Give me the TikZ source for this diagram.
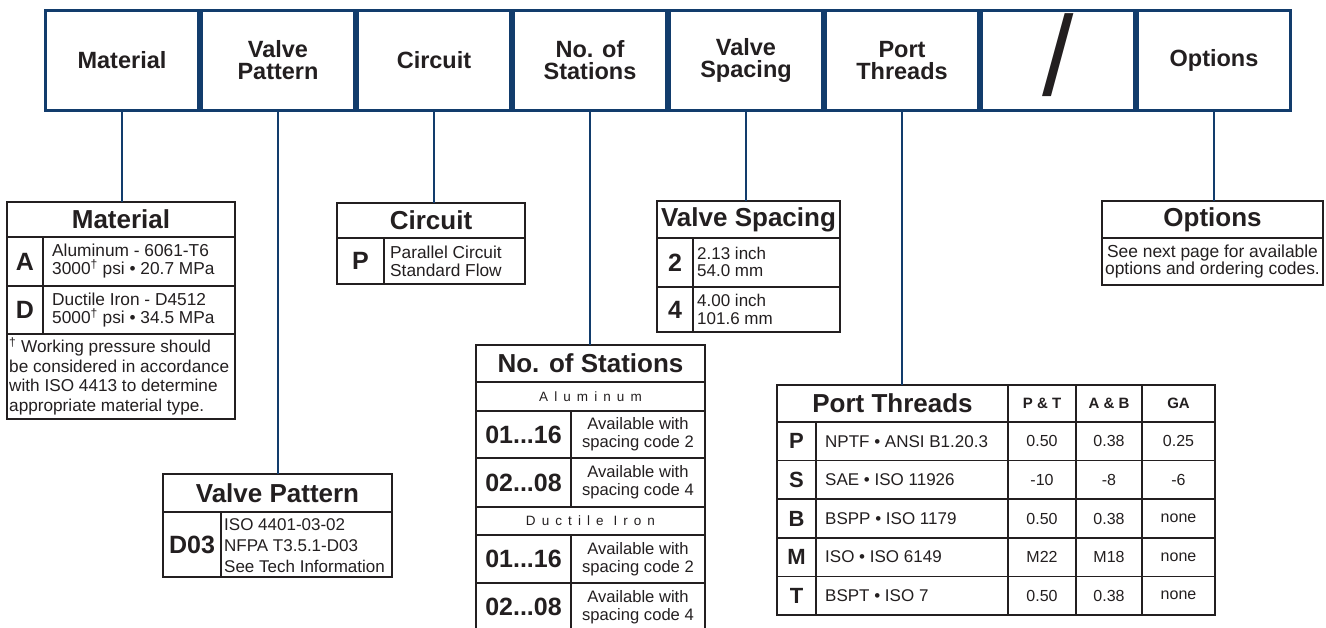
\documentclass[tikz,border=0pt]{standalone}
\usepackage{fontspec}
\setmainfont{Liberation Sans}
\definecolor{navy}{RGB}{18,60,108}
\definecolor{ink}{RGB}{35,31,32}
\tikzset{
  hdr/.style={draw=navy, line width=3pt, minimum width=153pt, minimum height=100pt, inner sep=0pt, align=center, text=ink, font=\bfseries\fontsize{23.5}{22}\selectfont},
  conn/.style={draw=navy, line width=2.2pt},
  cell/.style={draw=ink, line width=1.6pt, inner sep=0pt, outer sep=0pt, align=center, text=ink},
  ttl/.style={cell, font=\bfseries\fontsize{26}{28}\selectfont},
  code/.style={cell, font=\bfseries\fontsize{25}{26}\selectfont},
  pcode/.style={cell, font=\bfseries\fontsize{22}{24}\selectfont},
  hsm/.style={cell, font=\bfseries\fontsize{15}{16}\selectfont},
  sub/.style={cell, font=\fontsize{13.5}{14}\selectfont\addfontfeature{LetterSpace=45}},
  stxt/.style={cell, font=\fontsize{16.6}{18}\selectfont},
  otxt/.style={cell, font=\fontsize{17.4}{17.7}\selectfont},
  val/.style={cell, font=\fontsize{16}{17}\selectfont},
  txt/.style={anchor=west, inner sep=0pt, align=left, text=ink, font=\fontsize{17.3}{17.7}\selectfont},
  outer/.style={draw=ink, line width=2.6pt},
}
\newcommand\tc[7]{\node[#1, minimum width={(#5-#3)*1pt}, minimum height={(#6-#4)*1pt}] (#2) at ({(#3+#5)/2},{-(#4+#6)/2}) {#7};}
\begin{document}
\begin{tikzpicture}[x=1pt,y=1pt]
\useasboundingbox[fill=white] (0,0) rectangle (1326,-627);
% header row
\node[hdr] (hmat) at (122,-60.5) {Material};
\node[hdr] (hvp)  at (278,-60.5) {Valve\\Pattern};
\node[hdr] (hcir) at (434,-60.5) {Circuit};
\node[hdr] (hnos) at (590,-60.5) {No. of\\Stations};
\node[hdr] (hvs)  at (746,-60.5) {Valve\\Spacing};
\node[hdr] (hpt)  at (902,-60.5) {Port\\Threads};
\node[hdr] (hsl)  at (1058,-60.5) {};
\node[anchor=base, inner sep=0pt, text=ink, font=\fontsize{113}{113}\selectfont] (slash) at (1058,-95) {/};
\node[hdr] (hopt) at (1214,-60.5) {Options};
% Material
\tc{ttl}{mat0}{7}{202}{235}{237}{Material}
\tc{code}{matA}{7}{237}{43}{286}{A}
\tc{cell}{matAd}{43}{237}{235}{286}{}
\tc{code}{matD}{7}{286}{43}{334}{D}
\tc{cell}{matDd}{43}{286}{235}{334}{}
\tc{cell}{matN}{7}{334}{235}{419}{}
\node[txt] (matAt) at (52,-261) {Aluminum - 6061-T6\\3000\textsuperscript{†} psi \textbullet{} 20.7 MPa};
\node[txt] (matDt) at (52,-310) {Ductile Iron - D4512\\5000\textsuperscript{†} psi \textbullet{} 34.5 MPa};
\node[txt, font=\fontsize{17.2}{19.5}\selectfont] (matNt) at (9,-376.5) {\textsuperscript{†} Working pressure should\\be considered in accordance\\with ISO 4413 to determine\\appropriate material type.};
\draw[outer] (mat0.north west) rectangle (matN.south east);
% Valve Pattern
\tc{ttl}{vp0}{163}{474}{392}{512}{Valve Pattern}
\tc{code}{vpD}{163}{512}{221}{577}{D03}
\tc{cell}{vpDd}{221}{512}{392}{577}{}
\node[txt, font=\fontsize{17}{21}\selectfont] (vpt) at (224,-546) {ISO 4401-03-02\\NFPA T3.5.1-D03\\See Tech Information};
\draw[outer] (vp0.north west) rectangle (vpDd.south east);
% Circuit
\tc{ttl}{cir0}{337}{203}{525}{238}{Circuit}
\tc{code}{cirP}{337}{238}{384}{284}{P}
\tc{cell}{cirPd}{384}{238}{525}{284}{}
\node[txt] (cirt) at (390,-261) {Parallel Circuit\\Standard Flow};
\draw[outer] (cir0.north west) rectangle (cirPd.south east);
% No. of Stations
\tc{ttl}{nos0}{476}{345}{705}{382}{No. of Stations}
\tc{sub}{nosAl}{476}{382}{705}{411}{Aluminum}
\tc{code}{nos1}{476}{411}{571}{458}{01...16}
\tc{stxt}{nos1d}{571}{411}{705}{458}{Available with\\spacing code 2}
\tc{code}{nos2}{476}{458}{571}{507}{02...08}
\tc{stxt}{nos2d}{571}{458}{705}{507}{Available with\\spacing code 4}
\tc{sub}{nosDi}{476}{507}{705}{535}{Ductile Iron}
\tc{code}{nos3}{476}{535}{571}{583}{01...16}
\tc{stxt}{nos3d}{571}{535}{705}{583}{Available with\\spacing code 2}
\tc{code}{nos4}{476}{583}{571}{631}{02...08}
\tc{stxt}{nos4d}{571}{583}{705}{631}{Available with\\spacing code 4}
\draw[outer] (nos0.north west) rectangle (nos4d.south east);
% Valve Spacing
\tc{ttl}{vs0}{657}{201}{840}{238}{Valve Spacing}
\tc{code}{vs2}{657}{238}{693}{287}{2}
\tc{cell}{vs2d}{693}{238}{840}{287}{}
\tc{code}{vs4}{657}{287}{693}{332}{4}
\tc{cell}{vs4d}{693}{287}{840}{332}{}
\node[txt, font=\fontsize{17}{17.5}\selectfont] (vs2t) at (697,-262) {2.13 inch\\54.0 mm};
\node[txt, font=\fontsize{17}{17.5}\selectfont] (vs4t) at (697,-309.5) {4.00 inch\\101.6 mm};
\draw[outer] (vs0.north west) rectangle (vs4d.south east);
% Port Threads
\tc{ttl}{pt0}{777}{385}{1008}{422}{Port Threads}
\tc{hsm}{ptPT}{1008}{385}{1076}{422}{P \& T}
\tc{hsm}{ptAB}{1076}{385}{1142}{422}{A \& B}
\tc{hsm}{ptGA}{1142}{385}{1215}{422}{GA}
\foreach \pc/\pd/\pa/\pb/\pg [count=\i] in {
  P/NPTF \textbullet{} ANSI B1.20.3/0.50/0.38/0.25,
  S/SAE \textbullet{} ISO 11926/-10/-8/-6,
  B/BSPP \textbullet{} ISO 1179/0.50/0.38/none,
  M/ISO \textbullet{} ISO 6149/M22/M18/none,
  T/BSPT \textbullet{} ISO 7/0.50/0.38/none}{
  \pgfmathsetmacro\ya{422+(\i-1)*38.6}
  \pgfmathsetmacro\yb{\ya+38.6}
  \tc{pcode}{ptc\i}{777}{\ya}{816}{\yb}{\pc}
  \tc{cell}{ptd\i}{816}{\ya}{1008}{\yb}{}
  \tc{val}{ptpt\i}{1008}{\ya}{1076}{\yb}{\pa}
  \tc{val}{ptab\i}{1076}{\ya}{1142}{\yb}{\pb}
  \tc{val}{ptga\i}{1142}{\ya}{1215}{\yb}{\pg}
  \node[txt, font=\fontsize{17}{17}\selectfont] (ptt\i) at (825,{-(\ya+\yb)/2}) {\pd};
}
\draw[outer] (pt0.north west) rectangle (ptga5.south east);
% Options
\tc{ttl}{opt0}{1102}{201}{1323}{238}{Options}
\tc{otxt}{opt1}{1102}{238}{1323}{285}{See next page for available\\options and ordering codes.}
\draw[outer] (opt0.north west) rectangle (opt1.south east);
% connectors
\draw[conn] (hmat.south) -- (hmat.south |- mat0.north);
\draw[conn] (hvp.south) -- (hvp.south |- vp0.north);
\draw[conn] (hcir.south) -- (hcir.south |- cir0.north);
\draw[conn] (hnos.south) -- (hnos.south |- nos0.north);
\draw[conn] (hvs.south) -- (hvs.south |- vs0.north);
\draw[conn] (hpt.south) -- (hpt.south |- pt0.north);
\draw[conn] (hopt.south) -- (hopt.south |- opt0.north);
\end{tikzpicture}
\end{document}
